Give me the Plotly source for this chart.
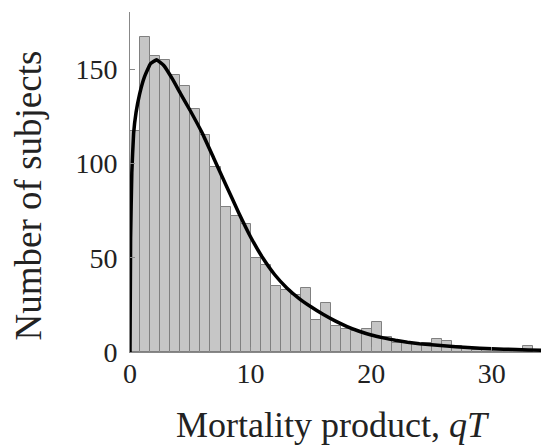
import plotly.graph_objects as go

# ---- data ----
bin_width = 0.835          # width of each histogram bin (qT units)
first_bin_center = 0.41    # centre of the first bin
counts = [117, 167, 157, 155, 147, 141, 129, 115, 98, 77,
          72, 68, 50, 46, 35, 33, 30, 34, 17, 26,
          14, 12, 11, 12, 16, 8, 5, 5, 4, 5,
          7, 6, 3, 2, 1, 1, 1, 0, 0, 3]
bin_centers = [first_bin_center + i * bin_width for i in range(len(counts))]

fit_x = [0, 0.05, 0.15, 0.3, 0.5, 0.8, 1.2, 1.7, 2.2, 2.8, 3.5, 4.2, 5.0, 6.0,
         7.0, 8.0, 9.0, 10.0, 11.0, 12.0, 13.0, 14.0, 15.0, 16.0, 17.0, 18.0,
         19.0, 20.0, 21.0, 22.0, 23.0, 24.0, 25.0, 27.0, 29.0, 31.0, 33.0, 35.4]
fit_y = [0, 60, 95, 116, 127, 137, 146, 153, 155, 152, 145, 137, 128, 116,
         102, 88, 74, 61, 50, 41, 34, 28.5, 24, 20, 16.5, 13.5,
         11, 9, 7.5, 6.2, 5.2, 4.4, 3.8, 2.8, 2.0, 1.5, 1.1, 0.85]

y_ticks = [0, 50, 100, 150]
x_ticks = [0, 10, 20, 30]
x_title = "Mortality product, <i>qT</i>"
y_title = "Number of subjects"

FONT = "Liberation Serif, Times New Roman, serif"
TXT = "#222222"

fig = go.Figure()
fig.add_trace(go.Bar(
    x=bin_centers, y=counts, width=bin_width,
    marker=dict(color="#c6c6c6", line=dict(color="#808080", width=1)),
    showlegend=False,
))
fig.add_trace(go.Scatter(
    x=fit_x, y=fit_y, mode="lines",
    line=dict(color="black", width=3.5, shape="spline", smoothing=0.3),
    showlegend=False,
))

# the page adds an 8 px body margin, so margins are shifted to compensate;
# the plot area runs past the right edge of the window as in the reference
fig.update_layout(
    width=549, height=448,
    margin=dict(l=122, r=0, t=4, b=104),
    paper_bgcolor="white", plot_bgcolor="white",
    font=dict(family=FONT, color=TXT),
    bargap=0,
    xaxis=dict(
        range=[0, 35.4], tickvals=x_ticks, ticktext=[str(v) for v in x_ticks],
        ticks="inside", ticklen=5, tickcolor="#888888",
        showline=True, linecolor="#888888", linewidth=1,
        showgrid=False, zeroline=False, automargin=False,
        ticklabelstandoff=-4,
        tickfont=dict(size=28, family=FONT, color=TXT),
    ),
    yaxis=dict(
        range=[0, 180.4], tickvals=y_ticks, ticktext=[str(v) for v in y_ticks],
        ticks="inside", ticklen=5, tickcolor="#888888",
        showline=True, linecolor="#888888", linewidth=1,
        showgrid=False, zeroline=False, automargin=False,
        ticklabelstandoff=6,
        tickfont=dict(size=28, family=FONT, color=TXT),
    ),
    annotations=[
        dict(text=x_title, xref="paper", yref="paper", x=0.476, y=-0.215,
             xanchor="center", yanchor="middle", showarrow=False,
             font=dict(size=36, family=FONT, color=TXT)),
        dict(text=y_title, xref="paper", yref="paper", x=-0.237, y=0.46,
             xanchor="center", yanchor="middle", showarrow=False, textangle=-90,
             font=dict(size=37, family=FONT, color=TXT)),
    ],
)

fig.write_html("out.html")
